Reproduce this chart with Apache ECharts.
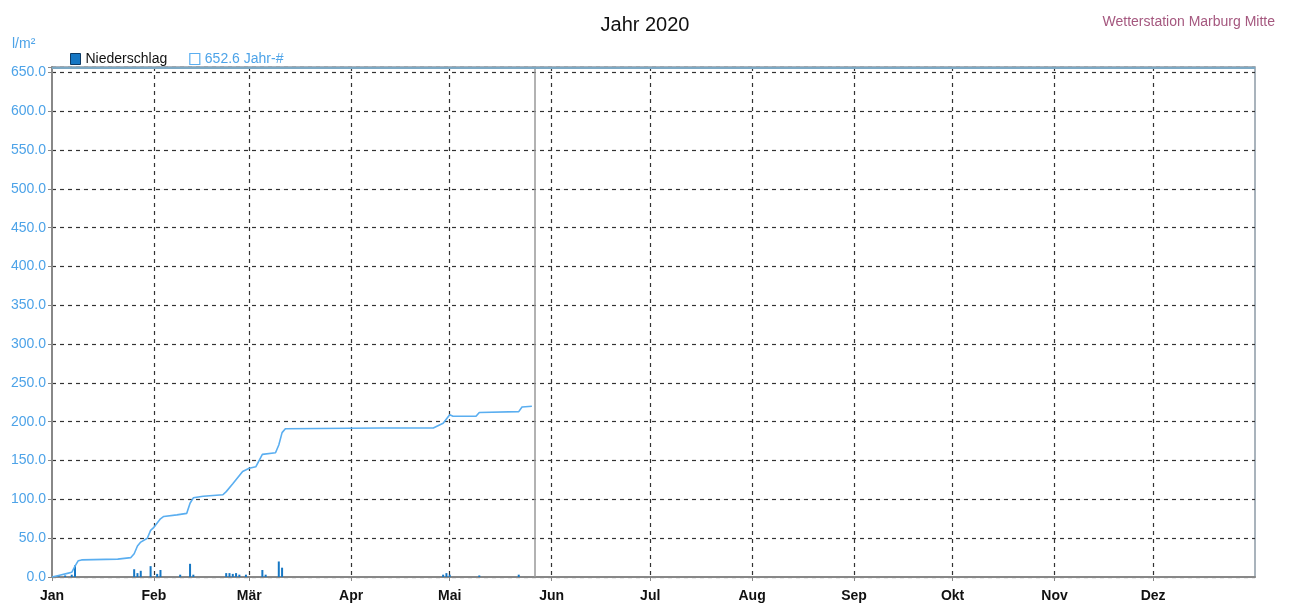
<!DOCTYPE html>
<html><head><meta charset="utf-8">
<script src="https://cdn.jsdelivr.net/npm/echarts@6/dist/echarts.min.js"></script>
<style>html,body{margin:0;padding:0;background:#fff}#c{width:1290px;height:607px}</style>
</head><body><div id="c"></div>
<script>
// Month tick labels and their day-of-year indices (2020, leap year)
const monthLabels = ['Jan','Feb','Mär','Apr','Mai','Jun','Jul','Aug','Sep','Okt','Nov','Dez'];
const monthStarts = [0,31,60,91,121,152,182,213,244,274,305,335];
const dayCount = 367; // 2020-01-01 .. 2021-01-01

// Cumulative precipitation ("652.6 Jahr-#"): [dayIndex, l/m²]
const cumulative = [
  [0,0],[2,2],[5,5],[6,6],[7,14],[8,21],[9,22],[20,23],[24,25],[25,30],[26,40],[27,45],
  [29,50],[30,60],[31,64],[33,75],[34,78],[38,80],[41,82],[42,95],[43,102],[46,104],
  [52,106],[53,110],[55,120],[58,136],[60,140],[62,142],[63,150],[64,158],[68,160],
  [69,170],[70,186],[71,191],[100,192],[116,192],[119,198],[121,209],[122,207],
  [129,207],[130,212],[142,213],[143,219],[146,220]
];

// Daily precipitation bars ("Niederschlag"): [dayIndex, l/m²]
const niederschlag = [
  [2,1],[4,2],[6,3],[7,15],[25,10],[26,5],[27,8],[30,14],[32,4],[33,9],[39,3],[42,17],[43,3],
  [53,5],[54,5],[55,4],[56,5],[57,3],[59,3],[64,9],[65,3],[69,20],[70,12],
  [119,3],[120,5],[121,3],[130,2],[142,3]
];

const currentDay = 147;
const yMax = 657;

const categories = [];
const start = new Date(Date.UTC(2020,0,1));
for (let i = 0; i < dayCount; i++) {
  const d = new Date(start.getTime() + i*86400000);
  categories.push(d.toISOString().slice(0,10));
}

const chart = echarts.init(document.getElementById('c'));
const font = "'Liberation Sans Narrow','Liberation Sans',Arial,sans-serif";
const isMonthStart = (i) => monthStarts.indexOf(i) >= 0;

chart.setOption({
  animation: false,
  backgroundColor: '#fff',
  title: [
    {text: 'Jahr 2020', left: 'center', top: 10,
     textStyle: {fontFamily: "'Liberation Sans',Arial,sans-serif", fontSize: 20, fontWeight: 'normal', color: '#111'}},
    {text: 'Wetterstation Marburg Mitte', right: 10, top: 10,
     textStyle: {fontFamily: font, fontSize: 14, fontWeight: 'normal', color: '#a5587f'}}
  ],
  graphic: [
    {type: 'text', left: 12, top: 37, style: {text: 'l/m²', fill: '#4da3e8', font: "14px 'Liberation Sans Narrow','Liberation Sans',Arial"}}
  ],
  legend: {
    left: 65, top: 47, itemWidth: 10, itemHeight: 11, itemGap: 22,
    textStyle: {fontFamily: font, fontSize: 14},
    data: [
      {name: 'Niederschlag', icon: 'rect', itemStyle: {color: '#1677c4', borderColor: '#0d3b66', borderWidth: 1}, textStyle: {color: '#111'}},
      {name: '652.6 Jahr-#', icon: 'rect', itemStyle: {color: 'rgba(0,0,0,0)', borderColor: '#5aaef0', borderWidth: 1.2}, textStyle: {color: '#4da3e8'}}
    ]
  },
  grid: {left: 52, right: 35, top: 67, bottom: 30, show: true, borderColor: '#8d9ba6', borderWidth: 1.5},
  xAxis: {
    type: 'category', data: categories, boundaryGap: false,
    axisLine: {lineStyle: {color: '#888', width: 2}},
    axisTick: {show: true, length: 4, interval: (i) => isMonthStart(i), lineStyle: {color: '#888'}},
    axisLabel: {
      interval: (i) => isMonthStart(i),
      formatter: (v, i) => isMonthStart(i) ? monthLabels[monthStarts.indexOf(i)] : '',
      color: '#111', fontFamily: font, fontSize: 14, fontWeight: 'bold', margin: 12
    },
    splitLine: {show: true, interval: (i) => isMonthStart(i) && i > 0, lineStyle: {color: '#333', type: [4,4], width: 1.2}}
  },
  yAxis: {
    type: 'value', min: 0, max: yMax, interval: 50,
    axisLine: {show: true, lineStyle: {color: '#888', width: 2}},
    axisTick: {show: true, length: 4, lineStyle: {color: '#888'}},
    axisLabel: {
      formatter: (v) => v <= 650 ? v.toFixed(1) : '',
      color: '#4da3e8', fontFamily: font, fontSize: 14, margin: 6
    },
    splitLine: {show: true, lineStyle: {color: '#333', type: [4,4], width: 1.2}}
  },
  series: [
    {
      name: 'Niederschlag', type: 'bar', data: niederschlag, barWidth: 2,
      itemStyle: {color: '#1677c4'}
    },
    {
      name: '652.6 Jahr-#', type: 'line', data: cumulative, showSymbol: false, symbol: 'none',
      lineStyle: {color: '#5aaef0', width: 1.6},
      itemStyle: {color: '#5aaef0'},
      markLine: {
        silent: true, symbol: 'none', label: {show: false},
        data: [
          {xAxis: currentDay, lineStyle: {color: '#999', width: 1.5, type: 'solid'}},
          {yAxis: yMax - 1, lineStyle: {color: '#7da9c4', width: 2, type: 'solid'}}
        ]
      }
    }
  ]
});
</script>
</body></html>
